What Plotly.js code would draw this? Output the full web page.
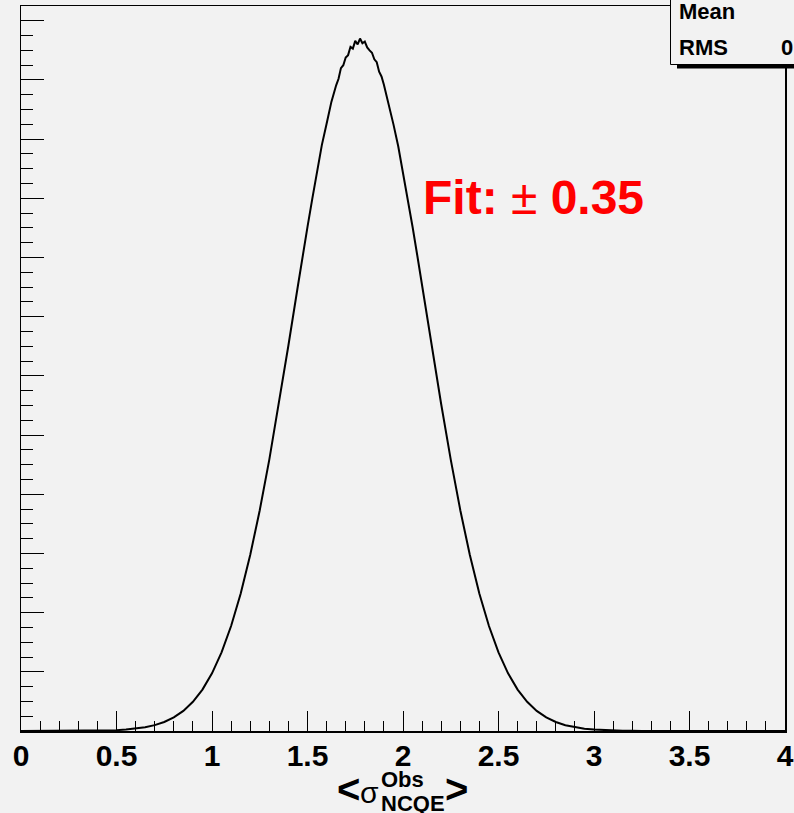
<!DOCTYPE html>
<html>
<head>
<meta charset="utf-8">
<script src="https://cdn.plot.ly/plotly-3.0.1.min.js"></script>
<style>
html,body{margin:0;padding:0;background:#f2f2f2;}
#chart{width:794px;height:813px;}
</style>
</head>
<body>
<div id="chart"></div>
<script>
// Histogram of <sigma_NCQE^Obs> (arbitrary vertical units)
const binCenters = [
  0.00, 0.30, 0.35, 0.40, 0.45, 0.50, 0.55, 0.60, 0.65, 0.70, 0.75, 0.80, 0.85, 0.90, 0.95,
  1.00, 1.05, 1.10, 1.15, 1.20, 1.25, 1.30, 1.35, 1.40, 1.45, 1.475, 1.50, 1.525, 1.55, 1.575,
  1.60, 1.625, 1.65, 1.6625, 1.675, 1.6875, 1.70, 1.7125, 1.725, 1.7375, 1.75, 1.7625, 1.775,
  1.7875, 1.80, 1.8125, 1.825, 1.8375, 1.85, 1.8625, 1.875, 1.8875, 1.90, 1.925,
  1.95, 1.975, 2.00, 2.025, 2.05, 2.075, 2.10, 2.15, 2.20, 2.25, 2.30, 2.35, 2.40, 2.45,
  2.50, 2.55, 2.60, 2.65, 2.70, 2.75, 2.80, 2.85, 2.90, 2.95, 3.00, 3.05, 3.10, 3.15, 3.20,
  3.25, 4.00
];
const counts = [
  0.000, 0.0015, 0.0027, 0.0047, 0.0083, 0.0142, 0.0237, 0.0389, 0.0626, 0.0986, 0.152, 0.230, 0.340, 0.493, 0.700,
  0.975, 1.329, 1.774, 2.320, 2.973, 3.731, 4.586, 5.521, 6.514, 7.527, 8.05, 8.518, 8.99, 9.445, 9.90,
  10.26, 10.63, 10.91, 11.02, 11.20, 11.25, 11.38, 11.42, 11.56, 11.53, 11.66, 11.60, 11.70,
  11.62, 11.65, 11.55, 11.50, 11.46, 11.35, 11.30, 11.14, 11.06, 10.92, 10.60,
  10.25, 9.88, 9.445, 8.98, 8.52, 8.03, 7.527, 6.514, 5.521, 4.586, 3.731, 2.973, 2.320, 1.774,
  1.329, 0.975, 0.700, 0.493, 0.340, 0.230, 0.152, 0.0986, 0.0626, 0.0389, 0.0237, 0.0142, 0.0083, 0.0047, 0.0027,
  0.0015, 0.000
];
const xTickVals = [0, 0.5, 1, 1.5, 2, 2.5, 3, 3.5, 4];
const xTickText = ["0", "0.5", "1", "1.5", "2", "2.5", "3", "3.5", "4"];
const fitLabel = "<b>Fit:</b> ± <b>0.35</b>";
const statNames = ["Mean", "RMS"];
const statValues = ["", "0"];

const W = 794, H = 813;
const L = 21, R = 785, T = 6, B = 731;
const px = x => (x - L) / (R - L);
const py = y => (B - y) / (B - T);

const font = {family: "Liberation Sans, Arial, sans-serif", color: "#000"};

const trace = {
  x: binCenters, y: counts, type: "scatter", mode: "lines",
  line: {color: "#000", width: 2, shape: "linear"},
  hoverinfo: "skip"
};

const annotations = [
  {xref: "paper", yref: "paper", x: px(421), y: py(197), xanchor: "left", yanchor: "middle",
   text: fitLabel, showarrow: false, font: {...font, size: 48, color: "#ff0000"}},
  // axis title pieces
  {xref: "paper", yref: "paper", x: px(335), y: py(789), xanchor: "left", yanchor: "middle",
   text: "<b><</b>", showarrow: false, font: {...font, size: 40}},
  {xref: "paper", yref: "paper", x: px(358), y: py(792), xanchor: "left", yanchor: "middle",
   text: "σ", showarrow: false, font: {...font, size: 30}},
  {xref: "paper", yref: "paper", x: px(379), y: py(779), xanchor: "left", yanchor: "middle",
   text: "<b>Obs</b>", showarrow: false, font: {...font, size: 22}},
  {xref: "paper", yref: "paper", x: px(379), y: py(804), xanchor: "left", yanchor: "middle",
   text: "<b>NCQE</b>", showarrow: false, font: {...font, size: 22}},
  {xref: "paper", yref: "paper", x: px(443), y: py(789), xanchor: "left", yanchor: "middle",
   text: "<b>></b>", showarrow: false, font: {...font, size: 40}},
  // stats box
  {xref: "paper", yref: "paper", x: px(677), y: py(12), xanchor: "left", yanchor: "middle",
   text: "<b>" + statNames[0] + "</b>", showarrow: false, font: {...font, size: 22}},
  {xref: "paper", yref: "paper", x: px(677), y: py(47), xanchor: "left", yanchor: "middle",
   text: "<b>" + statNames[1] + "</b>", showarrow: false, font: {...font, size: 22}},
  {xref: "paper", yref: "paper", x: px(779), y: py(47), xanchor: "left", yanchor: "middle",
   text: "<b>" + statValues[1] + "</b>", showarrow: false, font: {...font, size: 22}}
];

const shapes = [
  {type: "rect", xref: "paper", yref: "paper", x0: px(677), x1: px(820), y0: py(68.5), y1: py(63),
   fillcolor: "#000", line: {width: 0}, layer: "above"},
  {type: "rect", xref: "paper", yref: "paper", x0: px(670.5), x1: px(830), y0: py(64.5), y1: py(-20),
   fillcolor: "#f2f2f2", line: {color: "#000", width: 1}, layer: "above"}
];

const layout = {
  width: W, height: H,
  margin: {l: L, r: W - R, t: T, b: H - B, pad: 0},
  paper_bgcolor: "#f2f2f2", plot_bgcolor: "#f2f2f2",
  showlegend: false,
  xaxis: {
    range: [0, 4], showgrid: false, zeroline: false,
    showline: true, linecolor: "#000", linewidth: 1.5, mirror: true,
    ticks: "inside", ticklen: 20, tickwidth: 1, tickcolor: "#000",
    tickvals: xTickVals, ticktext: xTickText,
    ticklabelstandoff: -3,
    minor: {dtick: 0.1, ticks: "inside", ticklen: 10, tickwidth: 1, tickcolor: "#000", showgrid: false},
    tickfont: {...font, size: 30, weight: "bold"}
  },
  yaxis: {
    range: [0, 12.25], showgrid: false, zeroline: false,
    showline: true, linecolor: "#000", linewidth: 1.5, mirror: true,
    ticks: "inside", ticklen: 23, tickwidth: 1, tickcolor: "#000",
    dtick: 1, tick0: 0,
    minor: {dtick: 0.25, ticks: "inside", ticklen: 12, tickwidth: 1, tickcolor: "#000", showgrid: false},
    showticklabels: false
  },
  annotations: annotations,
  shapes: shapes
};

Plotly.newPlot("chart", [trace], layout, {displayModeBar: false, staticPlot: true});
</script>
</body>
</html>
